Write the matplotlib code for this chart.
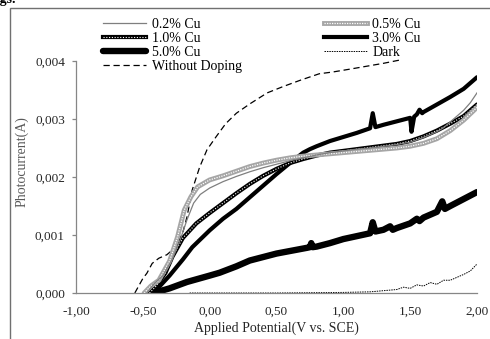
# -*- coding: utf-8 -*-
# Photocurrent vs applied potential for Cu-doped samples (recreated chart)

import numpy as np
import matplotlib
matplotlib.use("Agg")
import matplotlib.pyplot as plt
from matplotlib.lines import Line2D
from matplotlib.patches import Rectangle

# ==============================================================
# Data (potential in V, current in A)
# ==============================================================

x_02 = [-0.47, -0.42, -0.35, -0.28, -0.22, -0.17, -0.12, -0.07, 0.00, 0.10, 0.20, 0.30,
        0.40, 0.50, 0.60, 0.70, 0.80, 0.90, 1.00, 1.10, 1.20, 1.30, 1.40, 1.50, 1.60,
        1.70, 1.75, 1.80, 1.85, 1.90, 1.95, 2.00]
y_02 = [0.0, 0.00015, 0.00030, 0.00058, 0.00092, 0.00126, 0.00155, 0.00170, 0.00181,
        0.00192, 0.00201, 0.00209, 0.00216, 0.00222, 0.00228, 0.00233, 0.00238, 0.00242,
        0.00245, 0.00248, 0.00250, 0.00253, 0.00256, 0.00260, 0.00268, 0.00278, 0.00285,
        0.00295, 0.00305, 0.00315, 0.00328, 0.00345]

x_05 = [-0.49, -0.44, -0.38, -0.30, -0.24, -0.19, -0.14, -0.09, 0.00, 0.10, 0.20, 0.30,
        0.40, 0.50, 0.60, 0.70, 0.80, 0.90, 1.00, 1.10, 1.20, 1.30, 1.40, 1.50, 1.60,
        1.70, 1.80, 1.90, 2.00]
y_05 = [0.0, 0.00012, 0.00022, 0.00055, 0.00097, 0.00143, 0.00166, 0.00183, 0.00195,
        0.00202, 0.00210, 0.00218, 0.00224, 0.00229, 0.00233, 0.00236, 0.00238, 0.00240,
        0.00242, 0.00244, 0.00246, 0.00248, 0.00250, 0.00253, 0.00258, 0.00266, 0.00280,
        0.00298, 0.00320]

x_10 = [-0.45, -0.40, -0.33, -0.28, -0.20, -0.10, 0.00, 0.10, 0.20, 0.30, 0.40, 0.50,
        0.60, 0.70, 0.80, 0.90, 1.00, 1.10, 1.20, 1.30, 1.40, 1.50, 1.60, 1.70, 1.80,
        1.90, 2.00]
y_10 = [0.0, 0.00012, 0.00035, 0.00062, 0.00095, 0.00120, 0.00138, 0.00155, 0.00172,
        0.00188, 0.00202, 0.00214, 0.00224, 0.00231, 0.00237, 0.00242, 0.00245, 0.00248,
        0.00251, 0.00254, 0.00257, 0.00262, 0.00270, 0.00280, 0.00292, 0.00305, 0.00325]

x_30 = [-0.42, -0.38, -0.30, -0.20, -0.13, 0.00, 0.10, 0.20, 0.30, 0.40, 0.50, 0.60,
        0.70, 0.75, 0.80, 0.90, 1.00, 1.10, 1.15, 1.20, 1.22, 1.24, 1.30, 1.40, 1.50,
        1.51, 1.53, 1.55, 1.57, 1.59, 1.60, 1.70, 1.80, 1.90, 2.00]
y_30 = [0.0, 0.00010, 0.00030, 0.00058, 0.00079, 0.00108, 0.00128, 0.00145, 0.00165,
        0.00185, 0.00205, 0.00224, 0.00242, 0.00248, 0.00253, 0.00262, 0.00269, 0.00276,
        0.00280, 0.00284, 0.00310, 0.00286, 0.00290, 0.00296, 0.00302, 0.00278, 0.00304,
        0.00308, 0.00316, 0.00310, 0.00312, 0.00325, 0.00338, 0.00352, 0.00372]

x_50 = [-0.42, -0.30, -0.17, 0.00, 0.075, 0.20, 0.30, 0.50, 0.73, 0.75, 0.76, 0.77,
        0.80, 0.90, 1.00, 1.10, 1.20, 1.22, 1.24, 1.30, 1.35, 1.37, 1.40, 1.50, 1.55,
        1.57, 1.60, 1.70, 1.74, 1.76, 1.80, 1.90, 2.00]
y_50 = [0.0, 0.00008, 0.00019, 0.00030, 0.00035, 0.00046, 0.00056, 0.00068, 0.00078,
        0.00079, 0.00086, 0.00079, 0.00080, 0.00086, 0.00093, 0.00098, 0.00103, 0.00122,
        0.00106, 0.00109, 0.00115, 0.00109, 0.00112, 0.00120, 0.00128, 0.00124, 0.00130,
        0.00140, 0.00158, 0.00145, 0.00150, 0.00162, 0.00174]

x_dark = [-0.15, 0.50, 1.00, 1.20, 1.30, 1.40, 1.45, 1.50, 1.55, 1.60, 1.65, 1.70,
          1.75, 1.80, 1.85, 1.90, 1.95, 2.00]
y_dark = [0.0, 0.0, 0.00001, 0.00002, 0.00004, 0.00006, 0.00010, 0.00008, 0.00014,
          0.00012, 0.00018, 0.00015, 0.00022, 0.00022, 0.00027, 0.00032, 0.00038, 0.00050]

x_und = [-0.56, -0.50, -0.47, -0.43, -0.38, -0.32, -0.25, -0.20, -0.17, -0.13, -0.075,
         -0.02, 0.05, 0.12, 0.20, 0.30, 0.43, 0.55, 0.68, 0.82, 0.92, 1.05, 1.20, 1.30, 1.43]
y_und = [0.0, 0.00025, 0.00034, 0.00051, 0.00060, 0.00066, 0.00080, 0.00105, 0.00131,
         0.00178, 0.00217, 0.00247, 0.00270, 0.00292, 0.00310, 0.00326, 0.00345, 0.00356,
         0.00367, 0.00378, 0.00381, 0.00386, 0.00392, 0.00396, 0.00402]

x_ticks = [-1.0, -0.5, 0.0, 0.5, 1.0, 1.5, 2.0]
x_tick_labels = ["-1,00", "-0,50", "0,00", "0,50", "1,00", "1,50", "2,00"]
y_ticks = [0.0, 0.001, 0.002, 0.003, 0.004]
y_tick_labels = ["0,000", "0,001", "0,002", "0,003", "0,004"]

# ==============================================================
# Figure
# ==============================================================

plt.rcParams["font.family"] = ["Liberation Serif", "DejaVu Serif"]

W, H = 490, 339
fig = plt.figure(figsize=(W / 100, H / 100), dpi=100)
ax = fig.add_axes([76 / W, 1 - 293 / H, (477 - 76) / W, (293 - 61) / H])

grey = "#a6a6a6"

# --- series
ax.plot(x_und, y_und, color="black", lw=0.9, ls=(0, (5, 3)), clip_on=False)
ax.plot(x_dark, y_dark, color="black", lw=0.7, ls=(0, (1.5, 1)))
ax.plot(x_50, y_50, color="black", lw=4.6, solid_capstyle="round", solid_joinstyle="round")
ax.plot(x_30, y_30, color="black", lw=3.0, solid_capstyle="round", solid_joinstyle="round")
ax.plot(x_10, y_10, color="black", lw=3.0, solid_capstyle="round")
ax.plot(x_10, y_10, color="white", lw=0.8, ls=(0, (1, 1.5)))
ax.plot(x_05, y_05, color=grey, lw=3.5, solid_capstyle="round")
ax.plot(x_05, y_05, color="white", lw=0.9, ls=(0, (1, 1)))
ax.plot(x_02, y_02, color="#7f7f7f", lw=0.9)

# --- axes
ax.set_xlim(-1.0, 2.0)
ax.set_ylim(0.0, 0.004)
ax.set_xticks(x_ticks)
ax.set_xticklabels(x_tick_labels)
ax.set_yticks(y_ticks)
ax.set_yticklabels(y_tick_labels)
for side in ("top", "right"):
    ax.spines[side].set_visible(False)
for side in ("left", "bottom"):
    ax.spines[side].set_color("#868686")
    ax.spines[side].set_linewidth(0.9)
ax.tick_params(axis="x", length=0, pad=9, labelsize=9.5, labelcolor="#262626")
ax.tick_params(axis="y", length=3, width=0.9, color="#868686", pad=5,
               labelsize=9.5, labelcolor="#262626")

fig.text(276 / W, 1 - 328 / H, "Applied Potential(V vs. SCE)", ha="center", va="center",
         fontsize=10, color="#262626")
fig.text(22 / W, 1 - 162 / H, "Photocurrent(A)", ha="center", va="center",
         rotation=90, fontsize=10, color="#595959")

# --- legend
h02 = Line2D([], [], color="#7f7f7f", lw=0.9)
h05 = (Line2D([], [], color=grey, lw=3.5), Line2D([], [], color="white", lw=0.9, ls=(0, (1, 1))))
h10 = (Line2D([], [], color="black", lw=3.0), Line2D([], [], color="white", lw=0.8, ls=(0, (1, 1.5))))
h30 = Line2D([], [], color="black", lw=3.0)
h50 = Line2D([], [], color="black", lw=4.6, solid_capstyle="round")
hdark = Line2D([], [], color="black", lw=0.7, ls=(0, (1.5, 1)))
hund = Line2D([], [], color="black", lw=0.9, ls=(0, (5, 3)))

handles = [h02, h10, h50, hund, h05, h30, hdark]
labels = ["0.2% Cu", "1.0% Cu", "5.0% Cu", "Without Doping", "0.5% Cu", "3.0% Cu", "Dark"]
fig.legend(handles, labels, loc="upper left", bbox_to_anchor=(103 / W, 1 - 18 / H),
           ncol=2, frameon=False, fontsize=10, borderpad=0, borderaxespad=0,
           handlelength=3.1, handletextpad=0.4, columnspacing=5.9, labelspacing=0.07)

# --- page frame and cut-off caption
fig.patches.append(Rectangle((10 / W, -0.1), 1.2, 1.1 - 8 / H, transform=fig.transFigure,
                             fill=False, edgecolor="#707070", lw=1.0))
fig.text(16 / W, 1 - 3 / H, "ings.", ha="right", va="baseline", fontsize=10,
         fontweight="bold")

fig.savefig("out.png", dpi=100)
